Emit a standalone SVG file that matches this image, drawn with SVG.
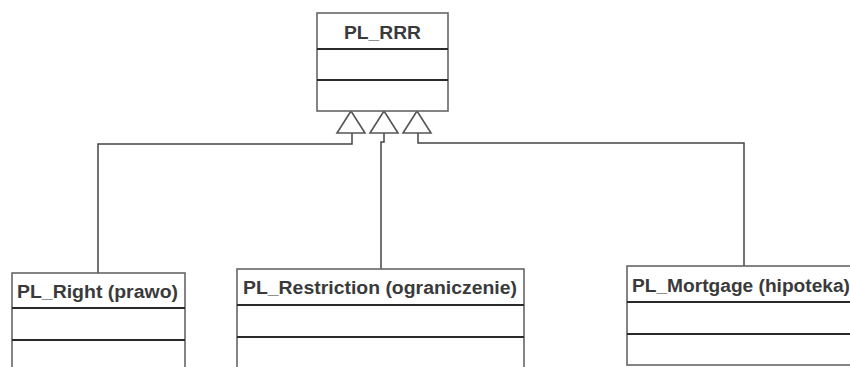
<svg xmlns="http://www.w3.org/2000/svg" width="850" height="367" viewBox="0 0 850 367">
<style>
.box{fill:#fff;stroke:#666;stroke-width:1.6}
.div{stroke:#2a2a2a;stroke-width:2}
.t{font-family:"Liberation Sans",Arial,sans-serif;font-weight:bold;font-size:18px;fill:#3a3a3a}
.c{fill:none;stroke:#444;stroke-width:1.5}
.tri{fill:#fff;stroke:#555;stroke-width:1.6}
</style>
<rect width="850" height="367" fill="#fff"/>
<g id="connectors">
<polyline class="c" points="352,133 352,144 98,144 98,273"/>
<polyline class="c" points="384,133 384,142 381,142 381,269"/>
<polyline class="c" points="418,133 418,143 744,143 744,266"/>
<polygon class="tri" points="351,111 337,133 365,133"/>
<polygon class="tri" points="384,111 370,133 398,133"/>
<polygon class="tri" points="417,111 403,133 431,133"/>
</g>
<g id="PL_RRR">
<rect class="box" x="317" y="13" width="131" height="98"/>
<line class="div" x1="317" y1="49" x2="448" y2="49"/>
<line class="div" x1="317" y1="80" x2="448" y2="80"/>
<text class="t" x="382.5" y="39" text-anchor="middle" textLength="77" lengthAdjust="spacingAndGlyphs">PL_RRR</text>
</g>
<g id="PL_Right">
<rect class="box" x="12" y="273" width="173" height="100"/>
<line class="div" x1="12" y1="308" x2="185" y2="308"/>
<line class="div" x1="12" y1="340" x2="185" y2="340"/>
<text class="t" x="17" y="298" textLength="161" lengthAdjust="spacingAndGlyphs">PL_Right (prawo)</text>
</g>
<g id="PL_Restriction">
<rect class="box" x="237" y="269" width="287" height="104"/>
<line class="div" x1="237" y1="305" x2="524" y2="305"/>
<line class="div" x1="237" y1="337" x2="524" y2="337"/>
<text class="t" x="243" y="294" textLength="274" lengthAdjust="spacingAndGlyphs">PL_Restriction (ograniczenie)</text>
</g>
<g id="PL_Mortgage">
<rect class="box" x="627" y="266" width="240" height="99"/>
<line class="div" x1="627" y1="302" x2="867" y2="302"/>
<line class="div" x1="627" y1="334" x2="867" y2="334"/>
<text class="t" x="632" y="292" textLength="218" lengthAdjust="spacingAndGlyphs">PL_Mortgage (hipoteka)</text>
</g>
</svg>
